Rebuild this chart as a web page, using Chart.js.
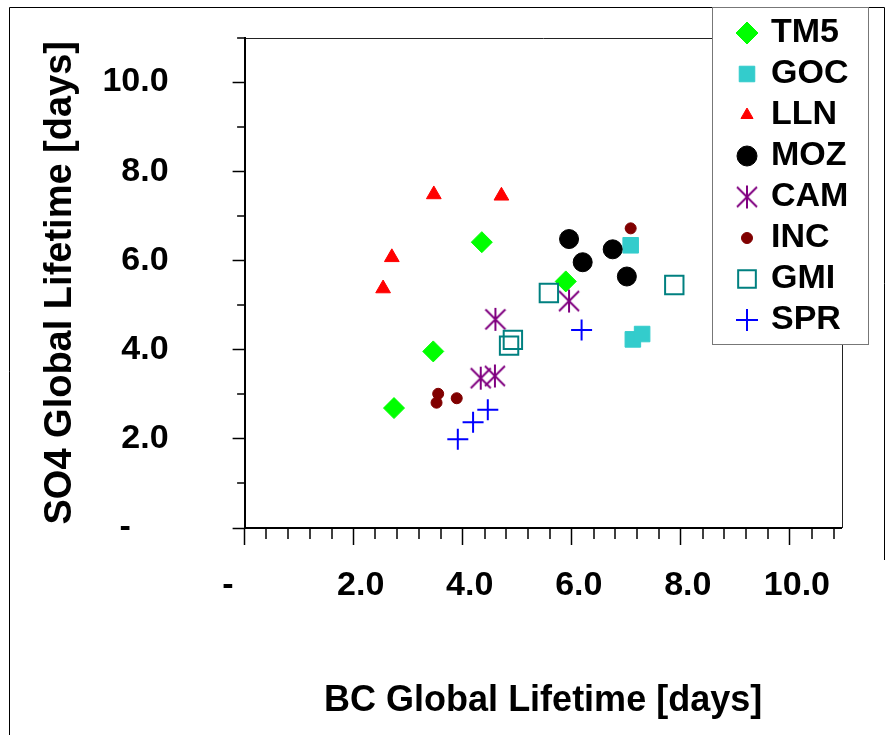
<!DOCTYPE html>
<html>
<head>
<meta charset="utf-8">
<title>SO4 vs BC global lifetime</title>
<script src="https://cdn.jsdelivr.net/npm/chart.js@4.4.1/dist/chart.umd.min.js"></script>
<style>
  html, body { margin: 0; padding: 0; background: #fff; }
  #wrap { width: 894px; height: 735px; }
</style>
</head>
<body>
<div id="wrap"><canvas id="myChart" width="894" height="735"></canvas></div>
<script>
// model names, in legend order
const models = ["TM5", "GOC", "LLN", "MOZ", "CAM", "INC", "GMI", "SPR"];

// BC global lifetime (x) and SO4 global lifetime (y), in days
const tm5X = [2.74, 3.46, 4.35, 5.89];
const tm5Y = [2.69, 3.96, 6.41, 5.53];
const gocX = [7.08, 7.12, 7.29];
const gocY = [6.34, 4.23, 4.35];
const llnX = [3.47, 4.71, 2.70, 2.54];
const llnY = [7.48, 7.45, 6.07, 5.37];
const mozX = [5.95, 6.20, 6.75, 7.01];
const mozY = [6.48, 5.96, 6.25, 5.64];
const camX = [4.60, 4.33, 4.59, 5.95];
const camY = [4.68, 3.36, 3.41, 5.09];
const incX = [3.55, 3.52, 3.89, 7.08];
const incY = [3.01, 2.81, 2.91, 6.72];
const gmiX = [4.85, 4.92, 5.58, 7.88];
const gmiY = [4.09, 4.22, 5.27, 5.45];
const sprX = [3.91, 4.19, 4.46, 6.18];
const sprY = [1.99, 2.37, 2.65, 4.44];

const xTicks = [0, 2, 4, 6, 8, 10];
const yTicks = [0, 2, 4, 6, 8, 10];

const seriesX = [tm5X, gocX, llnX, mozX, camX, incX, gmiX, sprX];
const seriesY = [tm5Y, gocY, llnY, mozY, camY, incY, gmiY, sprY];

// marker looks (shape, size on plot, size in legend, colours)
const looks = {
  TM5: { shape: "rectRot", r: 10.5, lr: 11, fill: "#00ff00", line: "#00ff00", w: 1 },
  GOC: { shape: "rect", r: 11, lr: 11, fill: "#33cccc", line: "#33cccc", w: 1 },
  LLN: { shape: "triangle", r: 8.5, lr: 7, fill: "#ff0000", line: "#ff0000", w: 1 },
  MOZ: { shape: "circle", r: 9.5, lr: 10, fill: "#000000", line: "#000000", w: 1 },
  CAM: { shape: "asterisk", r: 11, lr: 11, fill: "#800080", line: "#800080", w: 2 },
  INC: { shape: "circle", r: 5.5, lr: 5.5, fill: "#800000", line: "#800000", w: 1 },
  GMI: { shape: "rect", r: 13, lr: 12.5, fill: "rgba(0,0,0,0)", line: "#008080", w: 2 },
  SPR: { shape: "cross", r: 10.5, lr: 11, fill: "#0000ff", line: "#0000ff", w: 2 },
};

const FONT = "'Liberation Sans', Arial, sans-serif";
Chart.defaults.font.family = FONT;
Chart.defaults.color = "#000";

// six-armed asterisk (vertical bar + x), Chart.js has no such point style
function asterisk(color) {
  const c = document.createElement("canvas");
  c.width = 24;
  c.height = 25;
  const g = c.getContext("2d");
  g.strokeStyle = color;
  g.lineWidth = 2;
  g.beginPath();
  g.moveTo(12, 1); g.lineTo(12, 24);
  g.moveTo(2, 2.5); g.lineTo(22, 22.5);
  g.moveTo(22, 2.5); g.lineTo(2, 22.5);
  g.stroke();
  return c;
}

// legend markers have their own sizes, so paint them once into small canvases
function legendMark(look) {
  if (look.shape === "asterisk") return asterisk(look.line);
  const size = 2 * Math.ceil(look.lr + 3);
  const c = document.createElement("canvas");
  c.width = size;
  c.height = size;
  const g = c.getContext("2d");
  g.fillStyle = look.fill;
  g.strokeStyle = look.line;
  g.lineWidth = look.w;
  Chart.helpers.drawPoint(g, { pointStyle: look.shape, radius: look.lr, borderWidth: look.w, rotation: 0 }, size / 2, size / 2);
  return c;
}

const legendMarks = models.map(m => legendMark(looks[m]));

const datasets = models.map((m, i) => {
  const look = looks[m];
  return {
    label: m,
    data: seriesX[i].map((v, k) => ({ x: v, y: seriesY[i][k] })),
    pointStyle: look.shape === "asterisk" ? asterisk(look.line) : look.shape,
    pointRadius: look.r,
    pointHoverRadius: look.r,
    backgroundColor: look.fill,
    borderColor: look.line,
    borderWidth: look.w,
    pointBorderWidth: look.w,
    order: models.length - i, // later series on top, like the original
  };
});

// frame, legend box, minor ticks
const decor = {
  id: "decor",
  afterLayout(chart) {
    const lg = chart.legend;
    lg.left = 733;
    lg.top = 9;
    lg.right = lg.left + lg.width;
    lg.bottom = lg.top + lg.height;
  },
  beforeDraw(chart) {
    const ctx = chart.ctx;
    const a = chart.chartArea;
    ctx.save();
    ctx.fillStyle = "#fff";
    ctx.fillRect(0, 0, chart.width, chart.height);
    // outer border of the figure
    ctx.strokeStyle = "#000";
    ctx.lineWidth = 1;
    ctx.beginPath();
    ctx.moveTo(9.5, 735);
    ctx.lineTo(9.5, 7.5);
    ctx.lineTo(884.5, 7.5);
    ctx.lineTo(884.5, 560);
    ctx.stroke();
    // top and right edges of the plot area
    ctx.strokeStyle = "#222";
    ctx.beginPath();
    ctx.moveTo(a.left, Math.round(a.top) + 0.5);
    ctx.lineTo(Math.round(a.right) + 0.5, Math.round(a.top) + 0.5);
    ctx.lineTo(Math.round(a.right) + 0.5, a.bottom);
    ctx.stroke();
    // legend box
    const lg = chart.legend;
    const bx = lg.left - 21, by = lg.top - 2;
    ctx.fillStyle = "#fff";
    ctx.fillRect(bx, by, 156, 337);
    ctx.strokeStyle = "#777";
    ctx.strokeRect(bx + 0.5, by + 0.5, 156, 337);
    ctx.restore();
  },
  afterDraw(chart) {
    const ctx = chart.ctx;
    const xs = chart.scales.x;
    const ys = chart.scales.y;
    ctx.save();
    ctx.strokeStyle = "#000";
    ctx.lineWidth = 1.5;
    ctx.beginPath();
    // x: minor every 0.4 day
    for (let k = 1; k * 0.4 < xs.max; k++) {
      if (k % 5 === 0) continue;
      const px = Math.round(xs.getPixelForValue(k * 0.4));
      ctx.moveTo(px, xs.top);
      ctx.lineTo(px, xs.top + 11);
    }
    // y: minor on odd days
    for (let v = 1; v <= ys.max; v += 2) {
      const py = Math.round(ys.getPixelForValue(v));
      ctx.moveTo(ys.right - 7.5, py);
      ctx.lineTo(ys.right, py);
    }
    ctx.stroke();
    ctx.restore();
  },
};

const ctx = document.getElementById("myChart").getContext("2d");
const myChart = new Chart(ctx, {
  type: "scatter",
  data: { datasets: datasets },
  options: {
    responsive: false,
    animation: false,
    layout: { padding: { top: 37.5, right: 52.3, bottom: 0, left: 0 } },
    plugins: {
      tooltip: { enabled: false },
      legend: {
        position: "chartArea",
        align: "start",
        labels: {
          usePointStyle: true,
          boxWidth: 14,
          boxHeight: 14,
          padding: 7,
          color: "#000",
          font: { size: 34, weight: "bold", family: FONT },
          sort: (a, b) => a.datasetIndex - b.datasetIndex,
          generateLabels(chart) {
            const items = Chart.defaults.plugins.legend.labels.generateLabels(chart);
            items.forEach(it => { it.pointStyle = legendMarks[it.datasetIndex]; });
            return items;
          },
        },
      },
    },
    scales: {
      x: {
        type: "linear",
        min: 0,
        max: 10.95,
        afterBuildTicks: s => { s.ticks = xTicks.map(v => ({ value: v })); },
        afterFit: s => {
          s.height = 207;
          s.paddingLeft = 0;
          s.paddingRight = 0;
        },
        border: { color: "#000", width: 2 },
        grid: { drawOnChartArea: false, tickLength: 17, tickColor: "#000", tickWidth: 1.5 },
        ticks: {
          padding: 20,
          labelOffset: 7,
          maxRotation: 0,
          autoSkip: false,
          color: "#000",
          font: { size: 34, weight: "bold" },
          callback: v => (v === 0 ? "-     " : v.toFixed(1)),
        },
        title: {
          display: true,
          text: "BC Global Lifetime [days]",
          color: "#000",
          font: { size: 36, weight: "bold" },
          padding: { top: 0, bottom: 12 },
        },
      },
      y: {
        type: "linear",
        min: 0,
        max: 11,
        afterBuildTicks: s => { s.ticks = yTicks.map(v => ({ value: v })); },
        afterFit: s => {
          s.width = 244.6;
          // the wide label padding must not push the plot down
          s.paddingTop = 0;
          s.paddingBottom = 0;
        },
        border: { color: "#000", width: 2 },
        grid: { drawOnChartArea: false, tickLength: 12, tickColor: "#000", tickWidth: 1.5 },
        ticks: {
          padding: 64,
          autoSkip: false,
          color: "#000",
          font: { size: 34, weight: "bold" },
          callback: v => (v === 0 ? "-    " : v.toFixed(1)),
        },
        title: {
          display: true,
          text: "SO4 Global Lifetime [days]",
          color: "#000",
          font: { size: 38, weight: "bold" },
          padding: { top: 38, bottom: 0 },
        },
      },
    },
  },
  plugins: [decor],
});
</script>
</body>
</html>
